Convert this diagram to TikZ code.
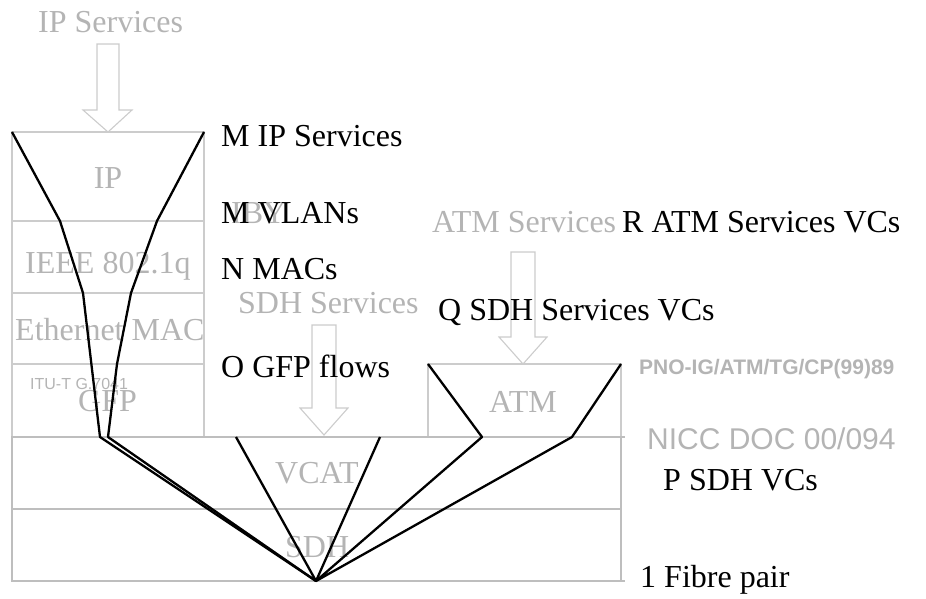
\documentclass[tikz,border=0pt]{standalone}
\usepackage{fontspec}
\setmainfont{Liberation Serif}
\setsansfont{Liberation Sans}
\definecolor{txtgray}{RGB}{180,180,180}
\definecolor{linegray}{RGB}{204,204,204}
\definecolor{blockgray}{RGB}{190,190,190}
\begin{document}
\begin{tikzpicture}[x=1pt,y=-1pt,
  gtxt/.style={text=txtgray,font=\fontsize{32}{36}\selectfont,inner sep=0pt,anchor=base west},
  btxt/.style={text=black,font=\fontsize{32}{36}\selectfont,inner sep=0pt,anchor=base west},
  thinbox/.style={draw=linegray,line width=1.4pt},
  thickbox/.style={draw=blockgray,line width=2.6pt},
  hollow/.style={draw=linegray,fill=white,line width=1.1pt,line join=miter},
  fibre/.style={draw=black,line width=2.3pt,line join=round}]
\useasboundingbox (0,0) rectangle (926,598);
% layer boxes
\draw[thinbox] (12,132) rectangle (204,437);
\draw[thinbox] (12,221) -- (204,221);
\draw[thinbox] (12,293) -- (204,293);
\draw[thinbox] (12,364) -- (204,364);
\draw[thinbox] (428,437) -- (428,364) -- (621,364) -- (621,437);
\draw[thickbox] (12,437) rectangle (621,581);
\draw[thickbox] (12,509) -- (621,509);
\draw[draw=blockgray,line width=1.4pt] (621,437) -- (625,437);
\draw[draw=blockgray,line width=1.4pt] (621,581) -- (625,581);
% hollow arrows
\draw[hollow] (97,44) -- (119,44) -- (119,110) -- (132,110) -- (108,132) -- (83,110) -- (97,110) -- cycle;
\draw[hollow] (312,325) -- (336,325) -- (336,408) -- (348,408) -- (324,435) -- (300,408) -- (312,408) -- cycle;
\draw[hollow] (511,252) -- (535,252) -- (535,337) -- (547,337) -- (523,364) -- (499,337) -- (511,337) -- cycle;
% gray texts
\node[gtxt] (tipsvc) at (38,32) {IP Services};
\node[gtxt,anchor=base] (tip) at (108,188) {IP};
\node[gtxt] (tiby) at (231,223) {IBY};
\node[gtxt] (tieee) at (25,273) {IEEE 802.1q};
\node[gtxt] (tsdhsvc) at (238,313) {SDH Services};
\node[gtxt] (teth) at (15,340) {Ethernet MAC};
\node[text=txtgray,font=\sffamily\fontsize{16}{18}\selectfont,inner sep=0pt,anchor=base west] (titu) at (30,389) {ITU-T G.7041};
\node[gtxt] (tgfp) at (78,411) {GFP};
\node[gtxt] (tatmsvc) at (432,232) {ATM Services};
\node[text=txtgray,font=\sffamily\bfseries\fontsize{21}{24}\selectfont,inner sep=0pt,anchor=base west] (tpno) at (639,374) {PNO-IG/ATM/TG/CP(99)89};
\node[gtxt] (tatm) at (489,412) {ATM};
\node[text=txtgray,font=\sffamily\fontsize{30}{34}\selectfont,inner sep=0pt,anchor=base west] (tnicc) at (647,449) {NICC DOC 00/094};
\node[gtxt] (tvcat) at (275,483) {VCAT};
\node[gtxt] (tsdh) at (285,557) {SDH};
% fibre paths
\coordinate (apex) at (316,581);
\coordinate (ipl0) at (12,132);
\coordinate (ipl1) at (60,221);
\coordinate (ipl2) at (83,293);
\coordinate (ipl3) at (100,437);
\coordinate (ipr0) at (204,132);
\coordinate (ipr1) at (157,221);
\coordinate (ipr2) at (131,293);
\coordinate (ipr3) at (117,364);
\coordinate (ipr4) at (108,437);
\coordinate (vcl) at (236,437);
\coordinate (vcr) at (380,437);
\coordinate (atl0) at (428,364);
\coordinate (atl1) at (482,437);
\coordinate (atr0) at (621,364);
\coordinate (atr1) at (572,437);
\draw[fibre] (ipl0) -- (ipl1) -- (ipl2) -- (ipl3) -- (apex);
\draw[fibre] (ipr0) -- (ipr1) -- (ipr2) -- (ipr3) -- (ipr4) -- (apex);
\draw[fibre] (vcl) -- (apex) -- (vcr);
\draw[fibre] (atl0) -- (atl1) -- (apex) -- (atr1) -- (atr0);
% black texts
\node[btxt] (mip) at (221,146) {M IP Services};
\node[btxt] (mvlan) at (221,223) {M VLANs};
\node[btxt] (nmac) at (221,279) {N MACs};
\node[btxt] (ogfp) at (221,377) {O GFP flows};
\node[btxt] (ratm) at (622,232) {R ATM Services VCs};
\node[btxt] (qsdh) at (438,320) {Q SDH Services VCs};
\node[btxt] (psdh) at (663,490) {P SDH VCs};
\node[btxt] (fibre) at (640,587) {1 Fibre pair};
\end{tikzpicture}
\end{document}
